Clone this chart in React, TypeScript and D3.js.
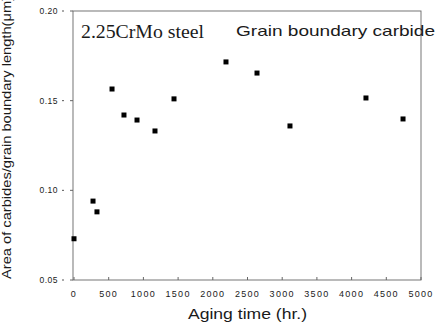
import React from "react";
import * as d3 from "d3";

const agingHours = [0, 274, 331, 548, 720, 908, 1167, 1441, 2190, 2637, 3112, 4207, 4741];
const carbideArea = [0.073, 0.094, 0.088, 0.1565, 0.142, 0.1392, 0.1331, 0.151, 0.1716, 0.1654, 0.1359, 0.1515, 0.1398];
const xTicks = [0, 500, 1000, 1500, 2000, 2500, 3000, 3500, 4000, 4500, 5000];
const yTicks = [0.05, 0.1, 0.15, 0.2];

const W = 435;
const H = 328;
const frame = { left: 73, right: 421, top: 11, bottom: 280 };

export default function App() {
  const x = d3.scaleLinear().domain([0, 5000]).range([74, 421]);
  const y = d3.scaleLinear().domain([0.05, 0.2]).range([frame.bottom, frame.top]);
  const sans = "Liberation Sans, Arial, sans-serif";
  const ink = "#1a1a1a";

  return (
    <svg width={W} height={H} style={{ position: "absolute", left: 0, top: 0, background: "#fff" }}>
      {/* plot frame */}
      <rect
        x={frame.left}
        y={frame.top}
        width={frame.right - frame.left}
        height={frame.bottom - frame.top}
        fill="none"
        stroke="#666"
        strokeWidth={0.9}
      />
      {/* y ticks */}
      {yTicks.map((t) => (
        <g key={t}>
          <line x1={frame.left - 11} x2={frame.left - 9} y1={y(t)} y2={y(t)} stroke="#555" />
          <line x1={frame.left - 3} x2={frame.left} y1={y(t)} y2={y(t)} stroke="#666" />
          <text
            x={frame.left - 15}
            y={y(t) + 3}
            textAnchor="end"
            fontFamily={sans}
            fontSize={8.5}
            letterSpacing={0.5}
            fill={ink}
          >
            {t.toFixed(2)}
          </text>
        </g>
      ))}
      {/* x ticks */}
      {xTicks.map((t) => (
        <g key={t}>
          <line x1={x(t)} x2={x(t)} y1={frame.bottom} y2={frame.bottom - 3} stroke="#666" />
          <text
            x={x(t)}
            y={frame.bottom + 17}
            textAnchor="middle"
            fontFamily={sans}
            fontSize={9}
            letterSpacing={1.3}
            fill={ink}
          >
            {t}
          </text>
        </g>
      ))}
      {/* data */}
      {agingHours.map((h, i) => (
        <rect
          key={i}
          x={x(h) - 2.5}
          y={y(carbideArea[i]) - 2.5}
          width={5}
          height={5}
          fill="#000"
        />
      ))}
      {/* annotations */}
      <text
        x={81}
        y={38}
        fontFamily="Liberation Serif, Times New Roman, serif"
        fontSize={18}
        textLength={123}
        lengthAdjust="spacingAndGlyphs"
        fill={ink}
      >
        2.25CrMo steel
      </text>
      <text
        x={236}
        y={36}
        fontFamily={sans}
        fontSize={15}
        textLength={199}
        lengthAdjust="spacingAndGlyphs"
        fill={ink}
      >
        Grain boundary carbide
      </text>
      {/* axis titles */}
      <text
        x={188}
        y={319}
        fontFamily={sans}
        fontSize={14}
        textLength={119}
        lengthAdjust="spacingAndGlyphs"
        fill={ink}
      >
        Aging time (hr.)
      </text>
      <text
        transform={`translate(11, 279) rotate(-90)`}
        fontFamily={sans}
        fontSize={12}
        textLength={283}
        lengthAdjust="spacingAndGlyphs"
        fill={ink}
      >
        Area of carbides/grain boundary length(μm)
      </text>
    </svg>
  );
}
